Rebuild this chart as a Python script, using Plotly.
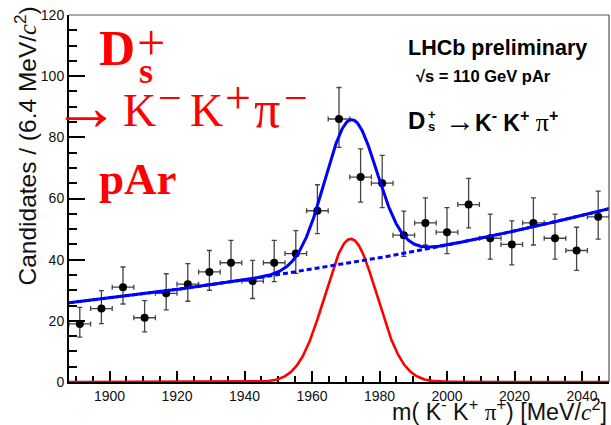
import numpy as np
import plotly.graph_objects as go

# ---------------- data ----------------
mass = [1891.2, 1897.6, 1904.0, 1910.4, 1916.8, 1923.2, 1929.6, 1936.0, 1942.4,
        1948.8, 1955.2, 1961.6, 1968.0, 1974.4, 1980.8, 1987.2, 1993.6, 2000.0,
        2006.4, 2012.8, 2019.2, 2025.6, 2032.0, 2038.4, 2044.8]
counts = [19, 24, 31, 21, 29, 32, 36, 39, 33, 39, 42, 56, 86, 67, 65, 48, 52, 49,
          58, 47, 45, 52, 47, 43, 54]
err_lo = [4.3, 4.9, 5.5, 4.6, 5.4, 5.6, 6.0, 6.2, 5.7, 6.2, 6.5, 7.5, 9.3, 8.2, 8.0,
          6.9, 7.2, 7.0, 7.6, 6.8, 6.7, 7.2, 6.8, 6.5, 7.3]
err_hi = [5.4, 5.9, 6.6, 5.6, 6.4, 6.7, 7.0, 7.3, 6.8, 7.3, 7.5, 8.5, 10.3, 9.2, 9.1,
          7.9, 8.2, 8.0, 8.6, 7.9, 7.7, 8.2, 7.9, 7.6, 8.4]
bin_half = [3.2] * len(mass)

x_ticks = [1900, 1920, 1940, 1960, 1980, 2000, 2020, 2040]
y_ticks = [0, 20, 40, 60, 80, 100, 120]

# fit model parameters (exponential background + gaussian signal)
m_lo, m_hi = 1888.0, 2048.0
bkg_at_lo = 25.9
bkg_slope = 0.00489
sig_amp = 46.8
sig_mean = 1971.5
sig_sigma = 7.7

m = np.linspace(m_lo, m_hi, 801)
bkg = bkg_at_lo * np.exp(bkg_slope * (m - m_lo))
sig = sig_amp * np.exp(-0.5 * ((m - sig_mean) / sig_sigma) ** 2)
total = bkg + sig

# ---------------- layout helpers ----------------
W, H = 611, 425
L, R, T, B = 69, 2, 15, 43
PW, PH = W - L - R, H - T - B


def px(x):
    return (x - L) / PW


def py(y):
    return (H - B - y) / PH


SANS = "Liberation Sans, Arial, Helvetica, sans-serif"
SERIF = "Liberation Serif, Times New Roman, serif"

fig = go.Figure()

fig.add_trace(go.Scatter(
    x=mass, y=counts, mode="markers",
    marker=dict(color="black", size=8),
    error_y=dict(type="data", array=err_hi, arrayminus=err_lo, symmetric=False,
                 color="#444444", thickness=1.3, width=2.5),
    error_x=dict(type="data", array=bin_half, color="#444444", thickness=1.3, width=2.5),
    showlegend=False, hoverinfo="skip"))

fig.add_trace(go.Scatter(x=m, y=sig, mode="lines",
                         line=dict(color="#ff0000", width=2.6), showlegend=False))
fig.add_trace(go.Scatter(x=m, y=bkg, mode="lines",
                         line=dict(color="#0000ff", width=3, dash="5px,3px"), showlegend=False))
fig.add_trace(go.Scatter(x=m, y=total, mode="lines",
                         line=dict(color="#0000ff", width=3), showlegend=False))

axis_common = dict(showgrid=False, zeroline=False, showline=True, linecolor="black",
                   linewidth=2, ticks="inside", tickcolor="black", tickwidth=1.5,
                   tickfont=dict(family=SANS, size=14, color="#111111"),
                   layer="below traces")

fig.update_xaxes(range=[m_lo, m_hi], tickvals=x_ticks, ticktext=[str(v) for v in x_ticks],
                 ticklen=11,
                 minor=dict(dtick=5, tick0=1900, ticklen=6, ticks="inside",
                            tickcolor="black", tickwidth=1.5),
                 **axis_common)
fig.update_yaxes(range=[0, 120], tickvals=y_ticks, ticktext=[str(v) for v in y_ticks],
                 ticklen=16,
                 minor=dict(dtick=5, tick0=0, ticklen=8, ticks="inside",
                            tickcolor="black", tickwidth=1.5),
                 **axis_common)

# frame (top and right)
fig.add_shape(type="line", xref="paper", yref="paper", x0=0, x1=1, y0=1, y1=1,
              line=dict(color="#555555", width=1.2))
fig.add_shape(type="line", xref="paper", yref="paper", x0=1, x1=1, y0=0, y1=1,
              line=dict(color="#555555", width=1.2))

ann = []


def add(text, x, y, size, family, color="black", xanchor="left", yanchor="middle", angle=0):
    ann.append(dict(text=text, x=px(x), y=py(y), xref="paper", yref="paper",
                    xanchor=xanchor, yanchor=yanchor, showarrow=False, textangle=angle,
                    font=dict(family=family, size=size, color=color)))


# axis titles
add("m( K<sup>-</sup> K<sup>+</sup> <span style='font-family:Liberation Serif'>π</span><sup>+</sup>) [MeV/<span style='font-family:Liberation Serif'><i>c</i></span><sup>2</sup>]",
    609, 410, 23.3, SANS, "#111111", xanchor="right")
add("Candidates / (6.4 MeV/<span style='font-family:Liberation Serif'><i>c</i></span><sup>2</sup>)",
    25, 5, 24.5, SANS, "#111111", xanchor="center", yanchor="top", angle=-90)

# red decay label (each glyph placed separately)
RED = "#ff0000"
add("<b>D</b>", 117, 48, 50, SERIF, RED, xanchor="center")
add("+", 151, 43, 50, SERIF, RED, xanchor="center")
add("<b>s</b>", 146, 71, 36, SERIF, RED, xanchor="center")
add("→", 86, 107, 68, SERIF, RED, xanchor="center")
add("K", 139.5, 110.5, 46, SERIF, RED, xanchor="center")
add("−", 170, 98.5, 42, SERIF, RED, xanchor="center")
add("K", 206.5, 110.5, 46, SERIF, RED, xanchor="center")
add("+", 237.5, 97.5, 46, SERIF, RED, xanchor="center")
add("π", 267, 109.5, 52, SERIF, RED, xanchor="center")
add("−", 295.5, 98.5, 42, SERIF, RED, xanchor="center")
add("<b>pAr</b>", 97, 179, 45, SERIF, RED)

# LHCb label
add("<b>LHCb preliminary</b>", 406, 48, 21.5, SANS)
add("<b>√s = 110 GeV pAr</b>", 414, 76, 16.5, SANS)
add("<b>D</b>", 406, 120, 24, SANS)
add("<b>+</b>", 426, 114.5, 13, SANS)
add("<b>s</b>", 426, 127, 13, SANS)
add("<span style='font-family:Liberation Serif;font-size:30px'>→</span><b>K<sup>-</sup> K<sup>+</sup></b> <span style='font-family:Liberation Serif;font-size:26px'>π</span><b><sup>+</sup></b>",
    443, 120, 23, SANS)

fig.update_layout(width=W, height=H, margin=dict(l=L, r=R, t=T, b=B),
                  paper_bgcolor="white", plot_bgcolor="white",
                  annotations=ann, showlegend=False)

fig.write_html("out.html", config={"displayModeBar": False},
               post_script="document.body.style.margin='0px';document.body.style.overflow='hidden';")
